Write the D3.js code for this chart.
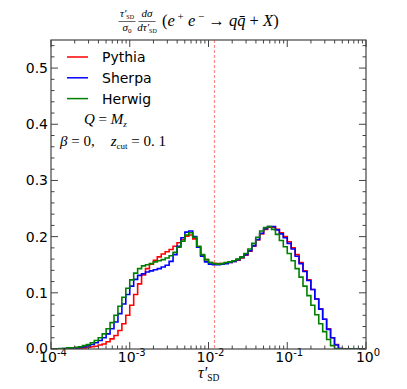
<!DOCTYPE html>
<html>
<head>
<meta charset="utf-8">
<script src="https://cdn.jsdelivr.net/npm/d3@7"></script>
<style>
body { margin: 0; background: #fff; }
svg { display: block; }
</style>
</head>
<body>
<div id="chart"></div>
<script>
// log10 bin edges, 20 bins per decade from 1e-4 to 1
var binLogStart = -4;
var binLogStep = 0.05;
var nBins = 80;

var seriesNames = ["Pythia", "Sherpa", "Herwig"];
var seriesColors = ["#ff0000", "#0000ff", "#008000"];

var pythia = [0,0,0,0,0,0.001,0.001,0.001,0.002,0.003,
  0.004,0.005,0.007,0.009,0.013,0.018,0.024,0.033,0.045,0.060,
  0.078,0.097,0.116,0.132,0.143,0.151,0.158,0.164,0.169,0.173,
  0.177,0.183,0.189,0.195,0.201,0.203,0.196,0.181,0.167,0.159,
  0.154,0.152,0.152,0.152,0.153,0.154,0.156,0.158,0.162,0.167,
  0.174,0.183,0.194,0.205,0.213,0.217,0.217,0.213,0.207,0.200,
  0.191,0.180,0.168,0.154,0.139,0.123,0.106,0.089,0.071,0.053,
  0.036,0.020,0.008,0.001,0,0,0,0,0,0];

var sherpa = [0,0,0,0.001,0.001,0.002,0.002,0.003,0.004,0.006,
  0.008,0.011,0.015,0.020,0.027,0.036,0.048,0.063,0.080,0.097,
  0.112,0.124,0.131,0.134,0.137,0.139,0.141,0.143,0.146,0.149,
  0.156,0.168,0.183,0.198,0.208,0.210,0.200,0.181,0.165,0.155,
  0.151,0.150,0.150,0.151,0.152,0.154,0.156,0.159,0.163,0.168,
  0.175,0.184,0.195,0.206,0.214,0.218,0.218,0.212,0.205,0.198,
  0.188,0.178,0.165,0.152,0.138,0.122,0.106,0.089,0.071,0.053,
  0.035,0.020,0.007,0.001,0,0,0,0,0,0];

var herwig = [0,0,0.001,0.001,0.002,0.002,0.003,0.004,0.006,0.008,
  0.011,0.015,0.020,0.027,0.036,0.047,0.060,0.076,0.092,0.108,
  0.123,0.135,0.143,0.148,0.150,0.152,0.155,0.157,0.159,0.162,
  0.166,0.172,0.181,0.192,0.203,0.207,0.199,0.183,0.168,0.159,
  0.154,0.152,0.151,0.152,0.154,0.155,0.157,0.160,0.164,0.170,
  0.178,0.188,0.199,0.210,0.216,0.218,0.213,0.204,0.193,0.182,
  0.170,0.157,0.143,0.128,0.112,0.095,0.078,0.061,0.045,0.031,
  0.017,0.006,0.001,0,0,0,0,0,0,0];

var yTicks = [0, 0.1, 0.2, 0.3, 0.4, 0.5];
var xDecades = [-4, -3, -2, -1, 0];
var tauCut = 0.0116;

var width = 407, height = 389;
var margin = {top: 40, right: 41, bottom: 40, left: 51};

var svg = d3.select("#chart").append("svg")
  .attr("width", width)
  .attr("height", height);

var x = d3.scaleLog().domain([1e-4, 1]).range([margin.left, width - margin.right]);
var y = d3.scaleLinear().domain([0, 0.55]).range([height - margin.bottom, margin.top]);

var x0 = x.range()[0], x1 = x.range()[1];
var y0 = y.range()[0], y1 = y.range()[1];

// clip for plot area
svg.append("clipPath").attr("id", "plotclip")
  .append("rect").attr("x", x0).attr("y", y1).attr("width", x1 - x0).attr("height", y0 - y1);

// dashed cut line (snapped to the pixel grid so it stays pink)
var xc = Math.round(x(tauCut)) + 0.5;
svg.append("line")
  .attr("x1", xc).attr("x2", xc)
  .attr("y1", y1).attr("y2", y0)
  .attr("stroke", "#ff8a8a")
  .attr("stroke-width", 1.2)
  .attr("stroke-dasharray", "3,2");

// histogram steps
var edges = d3.range(nBins + 1).map(function(i) { return Math.pow(10, binLogStart + i * binLogStep); });
var line = d3.line()
  .x(function(d) { return x(d[0]); })
  .y(function(d) { return y(d[1]); })
  .curve(d3.curveStepAfter);

[pythia, sherpa, herwig].forEach(function(vals, k) {
  var pts = vals.map(function(v, i) { return [edges[i], v]; });
  pts.push([edges[nBins], vals[nBins - 1]]);
  svg.append("path")
    .attr("d", line(pts))
    .attr("fill", "none")
    .attr("stroke", seriesColors[k])
    .attr("stroke-width", 1.6)
    .attr("clip-path", "url(#plotclip)");
});

// axes - ticks inward, all four sides
var axisColor = "#444";
var ax = svg.append("g");

// x major/minor ticks
var minorX = [];
for (var d = -4; d < 0; d++) {
  for (var m = 2; m <= 9; m++) minorX.push(m * Math.pow(10, d));
}
xDecades.forEach(function(e) {
  var xv = x(Math.pow(10, e));
  ax.append("line").attr("x1", xv).attr("x2", xv).attr("y1", y0).attr("y2", y0 - 7).attr("stroke", axisColor);
  ax.append("line").attr("x1", xv).attr("x2", xv).attr("y1", y1).attr("y2", y1 + 7).attr("stroke", axisColor);
  var t = ax.append("text")
    .attr("x", xv + 2).attr("y", y0 + 13)
    .attr("text-anchor", "middle")
    .attr("font-family", "DejaVu Sans")
    .attr("font-size", 14)
    .attr("fill", "#000");
  t.append("tspan").text("10");
  t.append("tspan").attr("dy", -6).attr("font-size", 10).text(e === 0 ? "0" : "-" + (-e));
});
minorX.forEach(function(v) {
  var xv = x(v);
  ax.append("line").attr("x1", xv).attr("x2", xv).attr("y1", y0).attr("y2", y0 - 3.5).attr("stroke", axisColor);
  ax.append("line").attr("x1", xv).attr("x2", xv).attr("y1", y1).attr("y2", y1 + 3.5).attr("stroke", axisColor);
});

// y ticks
var minorY = d3.range(0, 0.55, 0.02).filter(function(v) { return Math.abs(v * 10 - Math.round(v * 10)) > 1e-6; });
yTicks.forEach(function(v) {
  var yv = y(v);
  ax.append("line").attr("x1", x0).attr("x2", x0 + 7).attr("y1", yv).attr("y2", yv).attr("stroke", axisColor);
  ax.append("line").attr("x1", x1).attr("x2", x1 - 7).attr("y1", yv).attr("y2", yv).attr("stroke", axisColor);
  ax.append("text")
    .attr("x", x0 - 3).attr("y", yv + (v === 0 ? 4 : 5))
    .attr("text-anchor", "end")
    .attr("font-family", "DejaVu Sans")
    .attr("font-size", 14)
    .text(d3.format(".1f")(v));
});
minorY.forEach(function(v) {
  var yv = y(v);
  ax.append("line").attr("x1", x0).attr("x2", x0 + 3.5).attr("y1", yv).attr("y2", yv).attr("stroke", axisColor);
  ax.append("line").attr("x1", x1).attr("x2", x1 - 3.5).attr("y1", yv).attr("y2", yv).attr("stroke", axisColor);
});

// frame
svg.append("rect")
  .attr("x", x0).attr("y", y1)
  .attr("width", x1 - x0).attr("height", y0 - y1)
  .attr("fill", "none").attr("stroke", axisColor).attr("stroke-width", 1.2);

// legend
seriesNames.forEach(function(name, k) {
  var ly = 57 + k * 20.8;
  svg.append("line")
    .attr("x1", 67).attr("x2", 88).attr("y1", ly).attr("y2", ly)
    .attr("stroke", seriesColors[k]).attr("stroke-width", 1.5);
  svg.append("text")
    .attr("x", 102).attr("y", ly + 5)
    .attr("font-family", "DejaVu Sans")
    .attr("font-size", 14)
    .text(name);
});

var serif = "Liberation Serif";

// annotations
var q = svg.append("text").attr("x", 84).attr("y", 124)
  .attr("font-family", serif).attr("font-size", 15);
q.append("tspan").attr("font-style", "italic").text("Q");
q.append("tspan").text(" = ");
q.append("tspan").attr("font-style", "italic").text("M");
q.append("tspan").attr("font-style", "italic").attr("font-size", 9).attr("dy", 3).text("z");

var b = svg.append("text").attr("x", 60).attr("y", 146)
  .attr("font-family", serif).attr("font-size", 15);
b.append("tspan").attr("font-style", "italic").text("β");
b.append("tspan").text(" = 0,");
b.append("tspan").attr("dx", 16).attr("font-style", "italic").text("z");
b.append("tspan").attr("font-size", 9).attr("dy", 3).text("cut");
b.append("tspan").attr("dy", -3).text(" = 0. 1");

// title: two stacked fractions then process
var title = svg.append("g").attr("font-family", serif);
function frac(cx, top, bottom) {
  var n = title.append("text").attr("x", cx).attr("y", 17).attr("text-anchor", "middle").attr("font-size", 11);
  top(n);
  title.append("line").attr("x1", cx - 8.5).attr("x2", cx + 8.5).attr("y1", 21.5).attr("y2", 21.5)
    .attr("stroke", "#000").attr("stroke-width", 0.6);
  var dd = title.append("text").attr("x", cx).attr("y", 31).attr("text-anchor", "middle").attr("font-size", 11);
  bottom(dd);
}
frac(127, function(t) {
  t.append("tspan").attr("font-style", "italic").text("τ′");
  t.append("tspan").attr("font-size", 6).attr("dy", 2).text("SD");
}, function(t) {
  t.append("tspan").attr("font-style", "italic").text("σ");
  t.append("tspan").attr("font-size", 7).attr("dy", 1.5).text("0");
});
frac(147, function(t) {
  t.append("tspan").attr("font-style", "italic").text("dσ");
}, function(t) {
  t.append("tspan").attr("font-style", "italic").text("dτ′");
  t.append("tspan").attr("font-size", 6).attr("dy", 2).text("SD");
});
var p = title.append("text").attr("x", 162).attr("y", 26).attr("font-size", 16.5);
p.append("tspan").text("(");
p.append("tspan").attr("font-style", "italic").text("e");
p.append("tspan").attr("font-size", 11).attr("dy", -6).text(" +");
p.append("tspan").attr("font-style", "italic").attr("dy", 6).text(" e");
p.append("tspan").attr("font-size", 11).attr("dy", -6).text(" −");
p.append("tspan").attr("dy", 6).text(" → ");
p.append("tspan").attr("font-style", "italic").text("q");
p.append("tspan").attr("font-style", "italic").text("q̄");
p.append("tspan").text(" + ");
p.append("tspan").attr("font-style", "italic").text("X");
p.append("tspan").text(")");

// x label
var xl = svg.append("text").attr("x", 198).attr("y", 378)
  .attr("font-family", serif).attr("font-size", 16);
xl.append("tspan").attr("font-style", "italic").text("τ′");
xl.append("tspan").attr("font-size", 9.5).attr("dy", 3).text("SD");
</script>
</body>
</html>
